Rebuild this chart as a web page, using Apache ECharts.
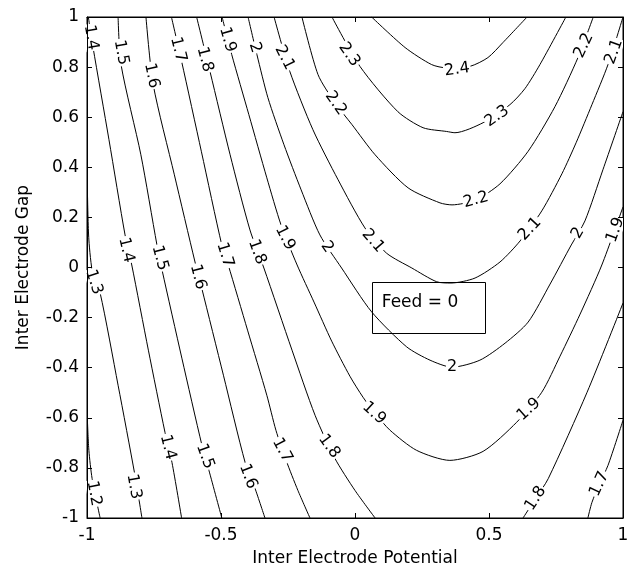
<!DOCTYPE html>
<html>
<head>
<meta charset="utf-8">
<script src="https://cdn.jsdelivr.net/npm/echarts@6/dist/echarts.min.js"></script>
<style>
html,body{margin:0;padding:0;background:#fff;}
#chart{width:643px;height:567px;}
</style>
</head>
<body>
<div id="chart"></div>
<script>
// ---- Axis definitions ----
const xRange = [-1, 1];
const yRange = [-1, 1];
const xTickStep = 0.5;
const yTickStep = 0.2;
const xTitle = 'Inter Electrode Potential';
const yTitle = 'Inter Electrode Gap';

// ---- Contour lines (x, y) ----
const c12 = [[-0.998,-0.622],[-0.993,-0.73],[-0.981,-0.842],[-0.951,-1]];
const c13 = [[-0.998,0.282],[-0.993,0.11],[-0.978,-0.03],[-0.951,-0.102],[-0.884,-0.47],[-0.821,-0.83],[-0.795,-1]];
const c14 = [[-0.995,1],[-0.978,0.882],[-0.918,0.51],[-0.858,0.13],[-0.833,0.01],[-0.771,-0.33],[-0.709,-0.658],[-0.683,-0.778],[-0.647,-1]];
const c15 = [[-0.884,1],[-0.873,0.81],[-0.799,0.45],[-0.739,0.09],[-0.72,-0.01],[-0.646,-0.362],[-0.571,-0.71],[-0.545,-0.81],[-0.497,-1]];
const c16 = [[-0.78,1],[-0.753,0.73],[-0.674,0.37],[-0.597,0.022],[-0.572,-0.082],[-0.491,-0.43],[-0.41,-0.778],[-0.373,-0.882],[-0.336,-1]];
const c17 = [[-0.685,1],[-0.647,0.823],[-0.573,0.462],[-0.497,0.09],[-0.473,0.01],[-0.401,-0.25],[-0.329,-0.51],[-0.295,-0.65],[-0.257,-0.77],[-0.213,-0.89],[-0.168,-1]];
const c18 = [[-0.591,1],[-0.541,0.782],[-0.466,0.45],[-0.392,0.15],[-0.34,-0.002],[-0.235,-0.33],[-0.149,-0.59],[-0.075,-0.762],[0,-0.89],[0.075,-1]];
const c18r = [[1,-0.142],[0.866,-0.498],[0.721,-0.843],[0.674,-0.922],[0.627,-1]];
const c17r = [[1,-0.61],[0.944,-0.79],[0.912,-0.864],[0.884,-0.938],[0.869,-1]];
const c19 = [[-0.496,1],[-0.46,0.85],[-0.396,0.61],[-0.329,0.358],[-0.276,0.17],[-0.216,0.01],[-0.153,-0.138],[-0.087,-0.294],[-0.019,-0.434],[0.03,-0.518],[0.075,-0.582],[0.131,-0.65],[0.23,-0.73],[0.354,-0.77],[0.478,-0.734],[0.603,-0.618],[0.697,-0.498],[0.765,-0.354],[0.84,-0.186],[0.921,0.01],[1,0.242]];
const c20 = [[-0.399,1],[-0.366,0.85],[-0.325,0.678],[-0.265,0.49],[-0.201,0.31],[-0.131,0.13],[-0.05,-0.002],[0.062,-0.177],[0.193,-0.317],[0.28,-0.37],[0.362,-0.398],[0.466,-0.37],[0.56,-0.302],[0.646,-0.218],[0.728,-0.066],[0.807,0.09],[0.858,0.186],[0.925,0.39],[1,0.622]];
const c21 = [[-0.302,1],[-0.243,0.782],[-0.157,0.55],[-0.063,0.35],[0.037,0.158],[0.118,0.057],[0.212,-0.002],[0.305,-0.057],[0.358,-0.062],[0.448,-0.042],[0.541,0.022],[0.616,0.106],[0.697,0.226],[0.772,0.374],[0.825,0.498],[0.884,0.65],[0.944,0.81],[1,1]];
const c22 = [[-0.198,1],[-0.138,0.77],[-0.075,0.658],[-0.011,0.57],[0.075,0.45],[0.198,0.318],[0.317,0.258],[0.362,0.25],[0.451,0.27],[0.541,0.334],[0.646,0.464],[0.746,0.642],[0.832,0.838],[0.889,1]];
const c23 = [[-0.086,1],[0.019,0.802],[0.16,0.622],[0.254,0.558],[0.342,0.543],[0.373,0.538],[0.478,0.578],[0.578,0.65],[0.634,0.714],[0.69,0.81],[0.787,1]];
const c24 = [[0.062,1],[0.187,0.878],[0.286,0.81],[0.342,0.797],[0.429,0.803],[0.496,0.838],[0.552,0.898],[0.642,1]];

// ---- Contour labels: [x, y, text] ----
const contourLabels = [
  [-0.985,0.918,'1.4'],[-0.873,0.858,'1.5'],[-0.759,0.766,'1.6'],[-0.66,0.87,'1.7'],
  [-0.56,0.83,'1.8'],[-0.476,0.91,'1.9'],[-0.373,0.878,'2'],[-0.263,0.838,'2.1'],
  [-0.022,0.85,'2.3'],[-0.072,0.656,'2.2'],[0.381,0.79,'2.4'],[0.53,0.604,'2.3'],
  [0.854,0.886,'2.2'],[0.966,0.862,'2.1'],[0.451,0.27,'2.2'],[0.067,0.106,'2.1'],
  [0.653,0.154,'2.1'],[0.832,0.138,'2'],[0.972,0.15,'1.9'],
  [-0.854,0.07,'1.4'],[-0.728,0.038,'1.5'],[-0.586,-0.038,'1.6'],[-0.485,0.05,'1.7'],
  [-0.366,0.062,'1.8'],[-0.261,0.118,'1.9'],[-0.104,0.082,'2'],[-0.974,-0.058,'1.3'],
  [0.071,-0.582,'1.9'],[0.362,-0.398,'2'],[0.649,-0.566,'1.9'],
  [-0.097,-0.714,'1.8'],[-0.272,-0.73,'1.7'],[-0.399,-0.834,'1.6'],[-0.56,-0.754,'1.5'],
  [-0.698,-0.718,'1.4'],[-0.825,-0.874,'1.3'],[-0.974,-0.902,'1.2'],
  [0.674,-0.922,'1.8'],[0.912,-0.864,'1.7']
];
const labelAngles = [
  -80,-80,-78,-76,
  -75,-74,-72,-63,
  -55,-55,8,35,
  65,70,15,-49,
  47,60,70,
  -77,-75,-75,-73,
  -70,-63,-55,-72,
  -42,0,42,
  -54,-62,-69,-70,
  -76,-80,-79,
  57,65
];

// ---- Annotation ----
const annotationText = 'Feed = 0';
const annotationBox = [[0.062,-0.059],[0.482,-0.261]];
const annotationTextAt = [0.1,-0.14];

const FONT = 'DejaVu Sans';
const contours = [c12,c13,c14,c15,c16,c17,c18,c18r,c17r,c19,c20,c21,c22,c23,c24];

const chart = echarts.init(document.getElementById('chart'), null, {renderer:'canvas'});

function axisCommon(extra){
  return Object.assign({
    type:'value', z:10,
    axisLine:{show:true,onZero:false,lineStyle:{color:'#000',width:1}},
    axisTick:{show:true,inside:true,length:5,lineStyle:{color:'#000'}},
    splitLine:{show:false},
    axisLabel:{show:false}
  }, extra);
}

const series = contours.map(pts => ({
  type:'line', data:pts, showSymbol:false, symbol:'none', smooth:0.25,
  lineStyle:{color:'#000', width:1}, clip:true, silent:true, z:2, animation:false
}));

series.push({
  type:'scatter',
  data: contourLabels.map((p,i) => ({value:[p[0],p[1]], name:p[2], label:{rotate:labelAngles[i]}})),
  symbolSize:1,
  itemStyle:{color:'rgba(0,0,0,0)'},
  label:{
    show:true, position:'inside', formatter:'{b}', color:'#000', opacity:1,
    fontFamily:FONT, fontSize:16, backgroundColor:'#fff', padding:[0,1], lineHeight:14
  },
  silent:true, z:5, animation:false
});

chart.setOption({
  backgroundColor:'#fff',
  animation:false,
  grid:{left:87,right:20,top:17,bottom:49,containLabel:false,outerBoundsMode:'none',
        show:true,borderColor:'#000',borderWidth:1,backgroundColor:'transparent'},
  xAxis:[
    axisCommon({min:xRange[0],max:xRange[1],interval:xTickStep,position:'bottom',
      axisLabel:{show:true,margin:9,color:'#000',fontFamily:FONT,fontSize:17},
      name:xTitle,nameLocation:'middle',nameGap:32,
      nameTextStyle:{color:'#000',fontFamily:FONT,fontSize:17}}),
    axisCommon({min:xRange[0],max:xRange[1],interval:xTickStep,position:'top'})
  ],
  yAxis:[
    axisCommon({min:yRange[0],max:yRange[1],interval:yTickStep,position:'left',
      axisLabel:{show:true,margin:8,color:'#000',fontFamily:FONT,fontSize:17},
      name:yTitle,nameLocation:'middle',nameGap:55,
      nameTextStyle:{color:'#000',fontFamily:FONT,fontSize:17}}),
    axisCommon({min:yRange[0],max:yRange[1],interval:yTickStep,position:'right'})
  ],
  series:series
});

const p0 = chart.convertToPixel({gridIndex:0}, annotationBox[0]);
const p1 = chart.convertToPixel({gridIndex:0}, annotationBox[1]);
const pt = chart.convertToPixel({gridIndex:0}, annotationTextAt);
chart.setOption({
  graphic:[
    {type:'rect', shape:{x:Math.round(p0[0])+0.5,y:Math.round(p0[1])+0.5,width:Math.round(p1[0]-p0[0]),height:Math.round(p1[1]-p0[1])},
     style:{fill:'none',stroke:'#000',lineWidth:1}, z:10, silent:true},
    {type:'text', x:pt[0], y:pt[1], style:{text:annotationText, fill:'#000', font:'17px "DejaVu Sans"', verticalAlign:'middle'}, z:11, silent:true}
  ]
});
</script>
</body>
</html>
